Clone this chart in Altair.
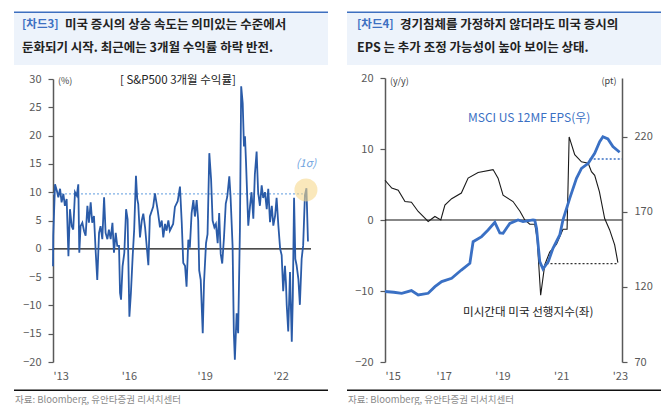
import altair as alt
import pandas as pd

# ---------------- data ----------------
# Left: S&P500 3-month return (%)
sp_year = [2013.0, 2013.01, 2013.08, 2013.15, 2013.21, 2013.28, 2013.34, 2013.41, 2013.47, 2013.54,
           2013.61, 2013.67, 2013.74, 2013.80, 2013.87, 2013.94, 2014.00, 2014.04, 2014.09, 2014.16,
           2014.23, 2014.29, 2014.36, 2014.42, 2014.49, 2014.55, 2014.62, 2014.69, 2014.75, 2014.82,
           2014.88, 2014.95, 2015.02, 2015.08, 2015.15, 2015.21, 2015.28, 2015.35, 2015.41, 2015.48,
           2015.54, 2015.61, 2015.65, 2015.69, 2015.75, 2015.82, 2015.89, 2015.95, 2016.02, 2016.08,
           2016.15, 2016.21, 2016.28, 2016.33, 2016.37, 2016.44, 2016.51, 2016.57, 2016.64, 2016.77,
           2016.83, 2016.96, 2017.03, 2017.14, 2017.23, 2017.30, 2017.36, 2017.43, 2017.49, 2017.56,
           2017.62, 2017.75, 2017.82, 2017.93, 2017.98, 2018.02, 2018.09, 2018.15, 2018.22, 2018.28,
           2018.35, 2018.41, 2018.48, 2018.55, 2018.61, 2018.68, 2018.74, 2018.78, 2018.84, 2018.92,
           2018.97, 2019.05, 2019.11, 2019.18, 2019.25, 2019.31, 2019.38, 2019.44, 2019.51, 2019.57,
           2019.63, 2019.69, 2019.76, 2019.83, 2019.89, 2019.97, 2020.02, 2020.10, 2020.15, 2020.19,
           2020.26, 2020.32, 2020.39, 2020.44, 2020.50, 2020.55, 2020.59, 2020.63, 2020.68, 2020.72,
           2020.79, 2020.85, 2020.92, 2020.98, 2021.05, 2021.11, 2021.18, 2021.25, 2021.31, 2021.38,
           2021.45, 2021.51, 2021.58, 2021.65, 2021.71, 2021.78, 2021.84, 2021.91, 2021.98, 2022.04,
           2022.10, 2022.17, 2022.21, 2022.24, 2022.30, 2022.37, 2022.44, 2022.48, 2022.53, 2022.58,
           2022.63, 2022.70, 2022.76, 2022.83, 2022.89, 2022.96, 2023.02, 2023.08]
sp_ret = [-3.1, 2.3, 11.4, 10.3, 9.1, 10.6, 8.2, 9.7, 7.6, 8.8,
          -1.3, 7.0, 4.0, 3.4, 10.0, 9.4, 11.4, -0.7, 4.0, 4.6,
          3.1, 2.3, 7.6, 4.6, 8.2, 4.6, 5.8, -0.7, -5.5, 2.8,
          4.0, 1.7, 9.1, 2.8, 1.7, 3.4, 1.7, 4.6, -0.7, 2.8,
          0.5, 0.5, -7.8, -9.0, -3.1, -0.7, 7.0, 5.2, -12.0, -7.8,
          -1.3, 3.4, 12.9, 8.8, 7.9, 2.0, 5.0, 6.2, 3.8, -2.9,
          5.7, 7.4, 9.8, 6.8, 3.8, 5.0, 2.0, 4.4, 3.2, 5.0,
          3.2, 4.4, 7.4, 8.4, 9.8, 11.0, 4.6, -2.5, -3.0, -6.7,
          1.6, 0.2, 6.3, 8.6, 5.7, 8.6, 5.0, -3.8, -5.5, -14.9,
          -6.0, 1.0, 2.6, 16.9, 12.3, 5.0, 3.8, 4.4, 1.0, 6.3,
          -0.9, -2.6, 2.0, 8.0, 9.2, 12.8, 9.2, 0.5, -14.9, -19.6,
          -11.4, -14.9, 3.4, 28.7, 25.7, 18.1, 19.9, 15.4, 9.0, 4.1,
          7.6, 10.0, 5.3, 13.1, 17.2, 10.0, 7.6, 11.2, 9.0, 10.0,
          7.0, 10.6, 4.7, 7.6, 4.1, 5.8, 9.0, 4.1, 0.0, -1.1,
          -7.5, -3.0, -6.0, -9.9, -14.6, -4.1, -16.4, -8.8, 9.0, -1.8,
          -2.9, -5.3, -9.9, -1.8, 0.6, 9.5, 10.7, 1.3]
sigma_level = 9.7
sigma_range = [2013.0, 2023.0]
highlight_point = [2023.0, 10.4]

# Right: Michigan leading index (y/y, left axis)
lei_year = [2015.0, 2015.23, 2015.45, 2015.68, 2015.9, 2016.13, 2016.35, 2016.47, 2016.7, 2016.9,
            2017.04, 2017.27, 2017.6, 2017.83, 2018.17, 2018.68, 2018.85, 2019.02, 2019.36, 2019.6,
            2019.76, 2019.93, 2020.1, 2020.18, 2020.3, 2020.44, 2020.61, 2020.84, 2021.06, 2021.2,
            2021.27, 2021.46, 2021.69, 2021.92, 2022.03, 2022.14, 2022.3, 2022.48, 2022.65, 2022.82,
            2022.93]
lei_val = [5.6, 4.5, 4.2, 2.6, 2.5, 1.2, 0.3, -0.2, 0.5, 0.0,
           2.1, 3.0, 3.8, 5.9, 6.7, 7.1, 5.9, 3.5, 2.6, 1.2,
           0.0, -0.6, -0.6, -2.6, -10.6, -6.3, -4.5, -3.4, -1.3, -1.3,
           11.7, 9.2, 8.2, 8.0, 6.8, 6.3, 4.0, 0.2, -1.4, -3.5,
           -6.0]
# Right: MSCI US 12MF EPS (pt, right axis)
eps_year = [2015.0, 2015.3, 2015.57, 2015.9, 2016.13, 2016.47, 2016.7, 2016.93, 2017.27, 2017.6,
            2017.89, 2018.0, 2018.29, 2018.51, 2018.74, 2018.91, 2019.02, 2019.25, 2019.53, 2019.7,
            2020.04, 2020.1, 2020.16, 2020.27, 2020.38, 2020.56, 2020.72, 2020.95, 2021.06, 2021.29,
            2021.52, 2021.69, 2021.92, 2022.14, 2022.31, 2022.42, 2022.59, 2022.76, 2022.99]
eps_val = [117.0, 116.5, 115.8, 117.6, 114.7, 115.8, 120.2, 123.6, 125.8, 131.3,
           135.8, 150.2, 153.6, 158.0, 163.1, 156.0, 155.8, 162.4, 164.7, 163.6,
           164.7, 164.5, 159.1, 136.9, 132.0, 136.9, 145.8, 154.7, 164.7, 179.1,
           192.4, 199.1, 202.4, 209.1, 216.9, 220.2, 218.7, 213.6, 209.8]
eps_ref_level = 205.3
eps_ref_range = [2021.97, 2023.07]
lei_ref_level = -6.15
lei_ref_range = [2020.5, 2022.95]

left_x_ticks = [2013, 2016, 2019, 2022]
left_y_ticks = list(range(-20, 31, 5))
right_x_ticks = [2015, 2017, 2019, 2021, 2023]
right_yl_ticks = [-20, -10, 0, 10, 20]
right_yr_ticks = [70, 120, 170, 220]

# ---------------- styling ----------------
FONT = "Noto Sans CJK KR"
AX = "#595959"
W, H = 654, 397

LX = alt.Scale(domain=[2013, 2023.2], range=[45, 303], nice=False, zero=False)
LY = alt.Scale(domain=[-20, 30], range=[354, 71], nice=False, zero=False)
RX = alt.Scale(domain=[2015, 2023.07], range=[377, 614], nice=False, zero=False)
RYL = alt.Scale(domain=[-20, 20], range=[354, 70], nice=False, zero=False)
RYR = alt.Scale(domain=[70, 259.3], range=[354, 70], nice=False, zero=False)

year_lbl = "\"'\" + substring(toString(datum.value), 2, 4)"


def xaxis(values):
    return alt.Axis(orient="bottom", offset=-43, values=values, labelExpr=year_lbl,
                    domain=False, ticks=False, grid=False, labelPadding=8,
                    labelFontSize=11, labelColor=AX, labelFont=FONT)


def yaxis(values, orient, offset):
    return alt.Axis(orient=orient, offset=offset, values=values, grid=False,
                    tickSize=5, labelPadding=7, domainColor=AX, tickColor=AX,
                    domainWidth=1.5, tickWidth=1.2, labelFontSize=11,
                    labelColor=AX, labelFont=FONT, format="d")


one = pd.DataFrame({"k": [0]})


def text(t, x, y, **kw):
    base = dict(font=FONT, fontSize=11, color="#222222", align="left", baseline="middle")
    base.update(kw)
    return alt.Chart(one).mark_text(text=t, **base).encode(x=alt.value(x), y=alt.value(y))


def rect(x, x2, y, y2, color):
    return alt.Chart(one).mark_rect(color=color).encode(
        x=alt.value(x), x2=alt.value(x2), y=alt.value(y), y2=alt.value(y2))


layers = []

# title boxes and footer rules
for (bx, bx2) in [(6, 320), (339, 653)]:
    layers.append(rect(bx, bx2, 4, 57, "#edf3fb"))
    layers.append(rect(bx, bx2, 3.5, 5, "#3d6fbf"))
    layers.append(rect(bx, bx2, 381.5, 383, "#111111"))

BLUE_T = "#3d70c2"
TS = 12.5
layers += [
    text("[차드3]", 14, 17, fontWeight=600, color=BLUE_T, fontSize=11.5),
    text("미국 증시의 상승 속도는 의미있는 수준에서", 57, 17, fontWeight="bold", fontSize=TS),
    text("둔화되기 시작. 최근에는 3개월 수익률 하락 반전.", 14, 40, fontWeight="bold", fontSize=TS),
    text("[차드4]", 349, 17, fontWeight=600, color=BLUE_T, fontSize=11.5),
    text("경기침체를 가정하지 않더라도 미국 증시의", 392, 17, fontWeight="bold", fontSize=TS),
    text("EPS 는 추가 조정 가능성이 높아 보이는 상태.", 349, 40, fontWeight="bold", fontSize=TS),
    text("자료: Bloomberg, 유안타증권 리서치센터", 7, 392, fontSize=9.5, color="#8a8a8a"),
    text("자료: Bloomberg, 유안타증권 리서치센터", 340, 392, fontSize=9.5, color="#8a8a8a"),
    text("(%)", 50, 73, fontSize=9, color="#404040"),
    text("[ S&P500 3개월 수익률]", 112, 73, fontSize=11.5, color="#222222"),
    text("(1σ)", 298, 156, fontSize=11, color="#6fa3e0", align="center", fontStyle="italic"),
    text("(y/y)", 382, 73, fontSize=9, color="#404040"),
    text("(pt)", 601, 73, fontSize=9, color="#404040", align="center"),
    text("MSCI US 12MF EPS(우)", 460, 110, fontSize=12, color="#3a70c4"),
    text("미시간대 미국 선행지수(좌)", 455, 305, fontSize=11.6, color="#222222"),
]

# ---------------- left panel ----------------
sp_df = pd.DataFrame({"year": sp_year, "ret": sp_ret})
zero_l = pd.DataFrame({"a": [2013.0], "b": [2023.2], "v": [0.0]})
sig_df = pd.DataFrame({"a": [sigma_range[0]], "b": [sigma_range[1]], "v": [sigma_level]})
hl_df = pd.DataFrame({"year": [highlight_point[0]], "ret": [highlight_point[1]]})

layers.append(alt.Chart(zero_l).mark_rule(color="#111111", strokeWidth=1.2).encode(
    x=alt.X("a:Q", scale=LX, axis=None), x2="b:Q", y=alt.Y("v:Q", scale=LY, axis=None)))
layers.append(alt.Chart(sig_df).mark_rule(color="#7fb0e6", strokeWidth=1.3, strokeDash=[2, 2]).encode(
    x=alt.X("a:Q", scale=LX, axis=None), x2="b:Q", y=alt.Y("v:Q", scale=LY, axis=None)))
layers.append(alt.Chart(sp_df).mark_line(color="#2a5ba8", strokeWidth=1.8).encode(
    x=alt.X("year:Q", scale=LX, axis=xaxis(left_x_ticks), title=None),
    y=alt.Y("ret:Q", scale=LY, axis=yaxis(left_y_ticks, "left", -45), title=None)))
layers.append(alt.Chart(hl_df).mark_circle(color="#f6d98e", opacity=0.6, size=530).encode(
    x=alt.X("year:Q", scale=LX, axis=None), y=alt.Y("ret:Q", scale=LY, axis=None)))

# ---------------- right panel ----------------
lei_df = pd.DataFrame({"year": lei_year, "v": lei_val})
eps_df = pd.DataFrame({"year": eps_year, "v": eps_val})
zero_r = pd.DataFrame({"a": [2015.0], "b": [2023.07], "v": [0.0]})
eps_ref = pd.DataFrame({"a": [eps_ref_range[0]], "b": [eps_ref_range[1]], "v": [eps_ref_level]})
lei_ref = pd.DataFrame({"a": [lei_ref_range[0]], "b": [lei_ref_range[1]], "v": [lei_ref_level]})

layers.append(alt.Chart(zero_r).mark_rule(color="#111111", strokeWidth=1.2).encode(
    x=alt.X("a:Q", scale=RX, axis=None), x2="b:Q", y=alt.Y("v:Q", scale=RYL, axis=None)))
layers.append(alt.Chart(lei_ref).mark_rule(color="#333333", strokeWidth=1.3, strokeDash=[2, 2]).encode(
    x=alt.X("a:Q", scale=RX, axis=None), x2="b:Q", y=alt.Y("v:Q", scale=RYL, axis=None)))
layers.append(alt.Chart(eps_ref).mark_rule(color="#3a70c4", strokeWidth=1.3, strokeDash=[2, 2]).encode(
    x=alt.X("a:Q", scale=RX, axis=None), x2="b:Q", y=alt.Y("v:Q", scale=RYR, axis=None)))
layers.append(alt.Chart(lei_df).mark_line(color="#1a1a1a", strokeWidth=1.1).encode(
    x=alt.X("year:Q", scale=RX, axis=xaxis(right_x_ticks), title=None),
    y=alt.Y("v:Q", scale=RYL, axis=yaxis(right_yl_ticks, "left", -377), title=None)))
layers.append(alt.Chart(eps_df).mark_line(color="#3a70c4", strokeWidth=2.8).encode(
    x=alt.X("year:Q", scale=RX, axis=None),
    y=alt.Y("v:Q", scale=RYR, axis=yaxis(right_yr_ticks, "right", -40), title=None)))

chart = alt.layer(*layers).resolve_scale(x="independent", y="independent").properties(
    width=W, height=H, autosize=alt.AutoSizeParams(type="none"), padding=0,
    background="white"
).configure_view(stroke=None)

chart.save("out.html", embed_options={"renderer": "svg", "actions": False})
